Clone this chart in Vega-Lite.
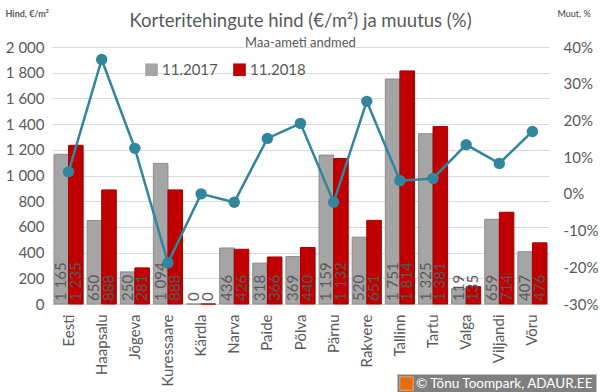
{
  "$schema": "https://vega.github.io/schema/vega-lite/v6.json",
  "width": 497,
  "height": 257,
  "padding": {"left": 5, "top": 9, "right": 2, "bottom": 2},
  "background": "white",
  "title": {
    "text": "Korteritehingute hind (€/m²) ja muutus (%)",
    "subtitle": "Maa-ameti andmed",
    "anchor": "middle",
    "fontSize": 18.5,
    "fontWeight": "normal",
    "color": "#595959",
    "subtitleFontSize": 13,
    "subtitleColor": "#595959",
    "subtitlePadding": 7,
    "offset": -41
  },
  "datasets": {
    "prices": [
      {"city": "Eesti", "year": "11.2017", "price": 1165},
      {"city": "Eesti", "year": "11.2018", "price": 1235},
      {"city": "Haapsalu", "year": "11.2017", "price": 650},
      {"city": "Haapsalu", "year": "11.2018", "price": 888},
      {"city": "Jõgeva", "year": "11.2017", "price": 250},
      {"city": "Jõgeva", "year": "11.2018", "price": 281},
      {"city": "Kuressaare", "year": "11.2017", "price": 1094},
      {"city": "Kuressaare", "year": "11.2018", "price": 888},
      {"city": "Kärdla", "year": "11.2017", "price": 0},
      {"city": "Kärdla", "year": "11.2018", "price": 0},
      {"city": "Narva", "year": "11.2017", "price": 436},
      {"city": "Narva", "year": "11.2018", "price": 426},
      {"city": "Paide", "year": "11.2017", "price": 318},
      {"city": "Paide", "year": "11.2018", "price": 366},
      {"city": "Põlva", "year": "11.2017", "price": 369},
      {"city": "Põlva", "year": "11.2018", "price": 440},
      {"city": "Pärnu", "year": "11.2017", "price": 1159},
      {"city": "Pärnu", "year": "11.2018", "price": 1132},
      {"city": "Rakvere", "year": "11.2017", "price": 520},
      {"city": "Rakvere", "year": "11.2018", "price": 651},
      {"city": "Tallinn", "year": "11.2017", "price": 1751},
      {"city": "Tallinn", "year": "11.2018", "price": 1814},
      {"city": "Tartu", "year": "11.2017", "price": 1325},
      {"city": "Tartu", "year": "11.2018", "price": 1381},
      {"city": "Valga", "year": "11.2017", "price": 119},
      {"city": "Valga", "year": "11.2018", "price": 135},
      {"city": "Viljandi", "year": "11.2017", "price": 659},
      {"city": "Viljandi", "year": "11.2018", "price": 714},
      {"city": "Võru", "year": "11.2017", "price": 407},
      {"city": "Võru", "year": "11.2018", "price": 476}
    ],
    "change": [
      {"city": "Eesti", "change": 0.060},
      {"city": "Haapsalu", "change": 0.366},
      {"city": "Jõgeva", "change": 0.124},
      {"city": "Kuressaare", "change": -0.188},
      {"city": "Kärdla", "change": 0.0},
      {"city": "Narva", "change": -0.023},
      {"city": "Paide", "change": 0.151},
      {"city": "Põlva", "change": 0.192},
      {"city": "Pärnu", "change": -0.023},
      {"city": "Rakvere", "change": 0.252},
      {"city": "Tallinn", "change": 0.036},
      {"city": "Tartu", "change": 0.042},
      {"city": "Valga", "change": 0.134},
      {"city": "Viljandi", "change": 0.083},
      {"city": "Võru", "change": 0.170}
    ]
  },
  "encoding": {
    "x": {
      "field": "city",
      "type": "nominal",
      "sort": ["Eesti", "Haapsalu", "Jõgeva", "Kuressaare", "Kärdla", "Narva", "Paide", "Põlva", "Pärnu", "Rakvere", "Tallinn", "Tartu", "Valga", "Viljandi", "Võru"],
      "scale": {"paddingInner": 0.12, "paddingOuter": 0.06},
      "axis": {
        "title": null,
        "labelAngle": 270,
        "labelAlign": "right",
        "labelBaseline": "middle",
        "labelFontSize": 15,
        "labelColor": "#595959",
        "labelPadding": 10,
        "ticks": false,
        "domain": true,
        "domainColor": "#D9D9D9",
        "grid": false
      }
    }
  },
  "layer": [
    {
      "data": {"name": "prices"},
      "encoding": {
        "xOffset": {"field": "year", "type": "nominal", "scale": {"paddingInner": 0, "paddingOuter": 0}},
        "y": {
          "type": "quantitative",
          "scale": {"domain": [0, 2000], "nice": false, "zero": true},
          "axis": {
            "orient": "left",
            "values": [0, 200, 400, 600, 800, 1000, 1200, 1400, 1600, 1800, 2000],
            "format": ",d",
            "domain": false,
            "ticks": false,
            "grid": true,
            "gridColor": "#D9D9D9",
            "labelFontSize": 15,
            "labelColor": "#595959",
            "labelPadding": 8,
            "title": "Hind, €/m²",
            "titleAngle": 0,
            "titleX": -47,
            "titleY": -31,
            "titleAlign": "left",
            "titleBaseline": "alphabetic",
            "titleFontSize": 9,
            "titleFontWeight": "bold",
            "titleColor": "#595959"
          }
        }
      },
      "layer": [
        {
          "mark": {"type": "bar", "strokeWidth": 1},
          "encoding": {
            "y": {"field": "price"},
            "color": {
              "field": "year",
              "type": "nominal",
              "scale": {"domain": ["11.2017", "11.2018"], "range": ["#A5A5A5", "#C00000"]},
              "legend": {
                "title": null,
                "orient": "none",
                "legendX": 92,
                "legendY": 15,
                "direction": "horizontal",
                "symbolType": "square",
                "symbolSize": 160,
                "symbolStrokeWidth": 0,
                "labelFontSize": 15,
                "labelColor": "#595959",
                "columnPadding": 14,
                "labelOffset": 3
              }
            },
            "stroke": {
              "field": "year",
              "type": "nominal",
              "scale": {"domain": ["11.2017", "11.2018"], "range": ["#8C8C8C", "#A00000"]},
              "legend": null
            }
          }
        },
        {
          "mark": {"type": "text", "angle": 270, "align": "left", "baseline": "middle", "dx": 3, "fontSize": 15, "color": "#595959"},
          "encoding": {
            "y": {"datum": 0},
            "text": {"field": "price", "type": "quantitative", "format": ",d"}
          }
        }
      ]
    },
    {
      "data": {"name": "change"},
      "encoding": {
        "y": {
          "field": "change",
          "type": "quantitative",
          "scale": {"domain": [-0.3, 0.4], "nice": false, "zero": false},
          "axis": {
            "orient": "right",
            "values": [-0.3, -0.2, -0.1, 0, 0.1, 0.2, 0.3, 0.4],
            "format": ".0%",
            "domain": false,
            "ticks": false,
            "grid": false,
            "labelFontSize": 15,
            "labelColor": "#595959",
            "labelPadding": 14,
            "title": "Muut, %",
            "titleAngle": 0,
            "titleX": 8,
            "titleY": -31,
            "titleAlign": "left",
            "titleBaseline": "alphabetic",
            "titleFontSize": 9,
            "titleFontWeight": "normal",
            "titleColor": "#404040"
          }
        }
      },
      "layer": [
        {
          "mark": {"type": "line", "color": "#31859C", "strokeWidth": 2.5}
        },
        {
          "mark": {"type": "point", "filled": true, "size": 130, "opacity": 1},
          "encoding": {
            "color": {
              "field": "city",
              "type": "nominal",
              "scale": {"range": ["#31859C"]},
              "legend": null
            },
            "opacity": {
              "datum": "© Tõnu Toompark, ADAUR.EE",
              "type": "ordinal",
              "scale": {"range": [1]},
              "legend": {
                "title": null,
                "orient": "none",
                "legendX": 345,
                "legendY": 327,
                "fillColor": "#7F7F7F",
                "strokeColor": "#BFBFBF",
                "padding": 2,
                "symbolType": "square",
                "symbolSize": 180,
                "symbolFillColor": "#E46C0A",
                "symbolStrokeColor": "#F2A36B",
                "symbolStrokeWidth": 1,
                "symbolOpacity": 1,
                "labelColor": "white",
                "labelFontSize": 13.5,
                "labelLimit": 400,
                "labelOffset": 2
              }
            }
          }
        }
      ]
    }
  ],
  "resolve": {"scale": {"y": "independent", "color": "independent"}},
  "config": {
    "font": "Lato",
    "view": {"stroke": null},
    "locale": {
      "number": {"decimal": ",", "thousands": " ", "grouping": [3], "currency": ["", " €"], "minus": "-", "percent": "%"}
    }
  }
}
